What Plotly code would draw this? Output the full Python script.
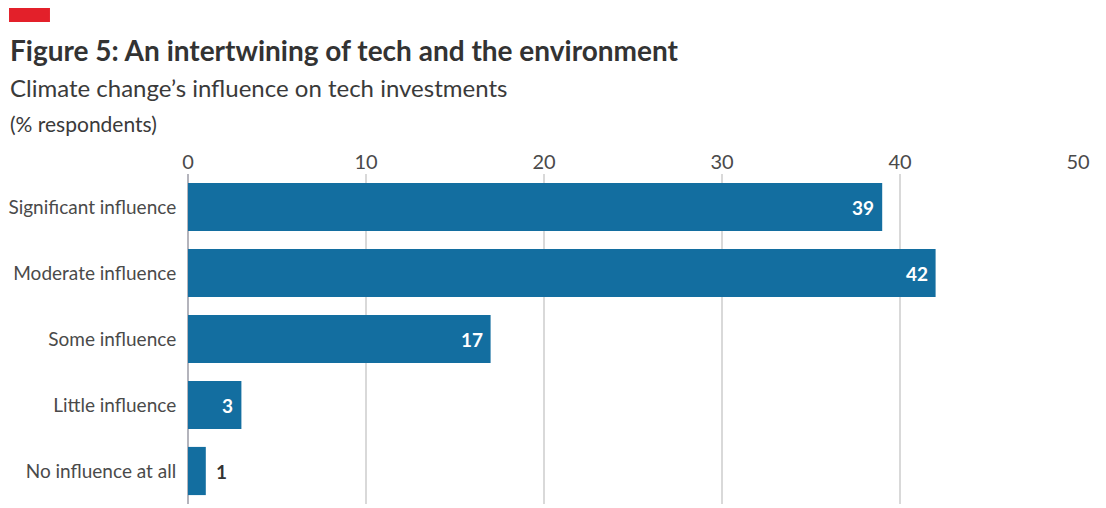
import plotly.graph_objects as go

categories = ["Significant influence", "Moderate influence", "Some influence",
              "Little influence", "No influence at all"]
values = [39, 42, 17, 3, 1]
tick_vals = [0, 10, 20, 30, 40, 50]

BAR = "#136ea0"
FONT = "Lato"

fig = go.Figure(go.Bar(
    x=values, y=categories, orientation="h",
    marker=dict(color=BAR, line=dict(width=0)),
    hoverinfo="skip",
))

# value labels: inside the bar end when there is room, otherwise just past it
for cat, v in zip(categories, values):
    inside = v >= 3
    fig.add_annotation(
        x=v, y=cat, xref="x", yref="y", text=f"<b>{v}</b>",
        showarrow=False,
        xanchor="right" if inside else "left",
        xshift=-6 if inside else 8,
        font=dict(family=FONT, size=19, color="white" if inside else "#333333"),
    )

# red tab above the title
fig.add_shape(type="rect", xref="paper", yref="paper",
              x0=-0.2011, x1=-0.1551, y0=1.4606, y1=1.503,
              line=dict(width=0), fillcolor="#e3202a")

fig.add_annotation(xref="paper", yref="paper", x=-0.2023, y=1.376,
                   xanchor="left", yanchor="middle", showarrow=False,
                   text="<b>Figure 5: An intertwining of tech and the environment</b>",
                   font=dict(family=FONT, size=28, color="#333333"))
fig.add_annotation(xref="paper", yref="paper", x=-0.2023, y=1.262,
                   xanchor="left", yanchor="middle", showarrow=False,
                   text="Climate change’s influence on tech investments",
                   font=dict(family=FONT, size=24, color="#3a3a3a"))
fig.add_annotation(xref="paper", yref="paper", x=-0.2023, y=1.152,
                   xanchor="left", yanchor="middle", showarrow=False,
                   text="(% respondents)",
                   font=dict(family=FONT, size=21, color="#3a3a3a"))

fig.update_layout(
    width=1106, height=508,
    margin=dict(l=188, r=28, t=174, b=4),
    paper_bgcolor="white", plot_bgcolor="white",
    bargap=0.27, showlegend=False,
    xaxis=dict(range=[0, 50], side="top", tickvals=tick_vals,
               showgrid=True, gridcolor="#d9d9d9", gridwidth=1.5,
               zeroline=True, zerolinecolor="#b4b4bc", zerolinewidth=2,
               ticks="", 
               tickfont=dict(family=FONT, size=20, color="#4a4a4a"),
               fixedrange=True),
    yaxis=dict(categoryorder="array", categoryarray=categories[::-1],
               ticks="outside", ticklen=7, tickcolor="rgba(0,0,0,0)",
               tickfont=dict(family=FONT, size=19, color="#4a4a4a"),
               showgrid=False, fixedrange=True),
)

fig.write_html("out.html")
